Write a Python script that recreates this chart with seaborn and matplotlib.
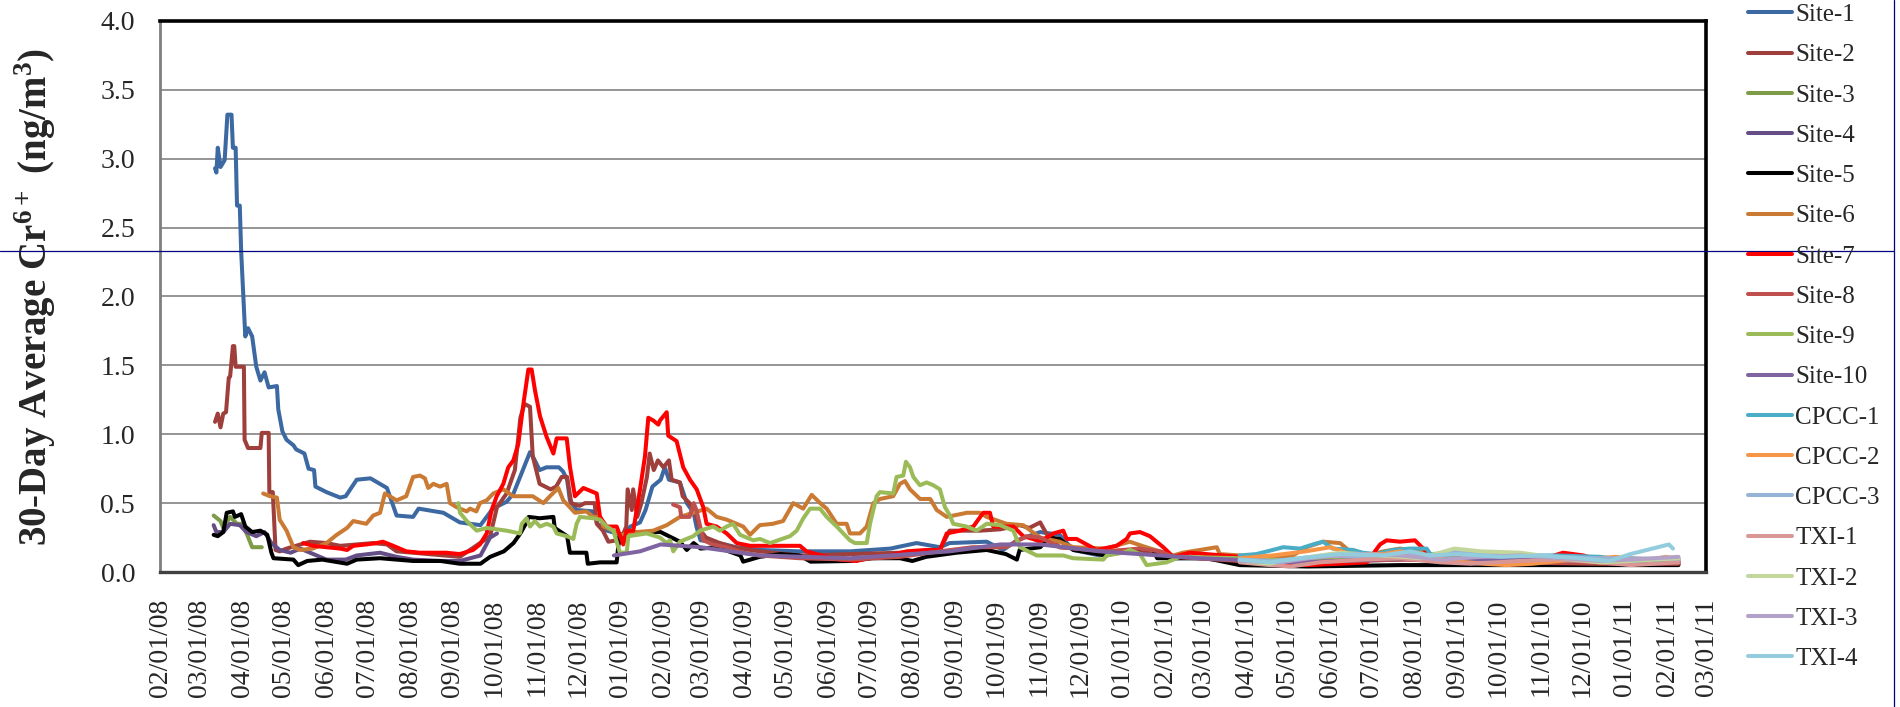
import numpy as np
import pandas as pd
import seaborn as sns
import matplotlib.pyplot as plt
import matplotlib.dates as mdates
from matplotlib.lines import Line2D

# x values are days since 2008-02-01, y values are 30-day averages (ng/m3)
START = pd.Timestamp('2008-02-01')

site1_day = [40, 41, 42, 44, 47, 49, 52, 53, 55, 56, 58, 59, 62, 64, 67, 70, 73, 76, 79, 85,
             86, 89, 92, 97, 99, 105, 108, 112, 113, 121, 131, 135, 143, 153, 165, 172, 184, 188, 206, 218,
             233, 242, 252, 257, 263, 269, 271, 276, 281, 290, 293, 296, 298, 303, 315, 318, 325, 332, 337, 342,
             349, 353, 358, 364, 367, 370, 378, 383, 388, 390, 393, 402, 419, 436, 465, 502, 531, 550, 567, 574,
             601, 613, 623, 640, 654, 664, 683, 713, 737, 756, 785, 829, 902, 938, 974, 1047, 1104]
site1_val = [2.93, 2.90, 3.08, 2.94, 2.99, 3.32, 3.32, 3.08, 3.08, 2.66, 2.66, 2.33, 1.71, 1.77, 1.71, 1.49, 1.39, 1.45, 1.34, 1.35,
             1.18, 1.02, 0.96, 0.92, 0.89, 0.86, 0.75, 0.74, 0.62, 0.58, 0.54, 0.55, 0.67, 0.68, 0.61, 0.41, 0.40, 0.46, 0.43, 0.36,
             0.34, 0.46, 0.51, 0.57, 0.72, 0.87, 0.84, 0.74, 0.76, 0.76, 0.73, 0.67, 0.52, 0.45, 0.44, 0.35, 0.30, 0.28, 0.27, 0.33,
             0.36, 0.45, 0.62, 0.67, 0.76, 0.67, 0.65, 0.50, 0.43, 0.33, 0.23, 0.22, 0.18, 0.16, 0.15, 0.15, 0.17, 0.21, 0.18, 0.21,
             0.22, 0.16, 0.23, 0.29, 0.27, 0.16, 0.12, 0.16, 0.10, 0.10, 0.075, 0.07, 0.09, 0.12, 0.10, 0.08, 0.07]

site2_day = [40, 42, 44, 46, 48, 50, 51, 53, 54, 55, 61, 61.5, 64, 73, 74, 79, 79.5, 82, 84, 87,
             92, 109, 121, 131, 155, 165, 172, 184, 218, 240, 245, 252, 258, 262, 265, 269, 271, 276, 284, 288,
             292, 296, 299, 305, 309, 316, 317.5, 322, 326, 332, 334, 339, 340, 343, 344, 347, 350, 354, 356, 359,
             362, 366, 370, 372, 378, 380, 385, 388, 390, 393, 397, 407, 417, 429, 436, 465, 502, 538, 567, 574,
             596, 611, 625, 632, 640, 641, 645, 654, 688, 712, 732, 756, 829, 902, 974, 1047, 1104]
site2_val = [1.09, 1.15, 1.05, 1.15, 1.16, 1.41, 1.42, 1.64, 1.64, 1.49, 1.49, 0.96, 0.90, 0.90, 1.01, 1.01, 0.58, 0.58, 0.16, 0.15,
             0.17, 0.22, 0.21, 0.19, 0.21, 0.20, 0.15, 0.14, 0.11, 0.26, 0.47, 0.57, 0.74, 1.12, 1.22, 1.20, 0.84, 0.64, 0.60, 0.62,
             0.69, 0.69, 0.50, 0.48, 0.50, 0.50, 0.35, 0.30, 0.22, 0.23, 0.21, 0.33, 0.60, 0.45, 0.60, 0.40, 0.50, 0.69, 0.86, 0.74,
             0.81, 0.76, 0.81, 0.67, 0.65, 0.55, 0.50, 0.45, 0.40, 0.30, 0.25, 0.21, 0.18, 0.16, 0.15, 0.12, 0.13, 0.14, 0.16, 0.30,
             0.30, 0.31, 0.34, 0.32, 0.36, 0.34, 0.27, 0.18, 0.15, 0.16, 0.12, 0.10, 0.08, 0.10, 0.08, 0.07, 0.06]

site3_day = [39, 44, 46, 51, 56, 59, 63, 67, 74]
site3_val = [0.41, 0.37, 0.32, 0.40, 0.35, 0.35, 0.28, 0.18, 0.18]

site4_day = [39, 41, 46, 51, 58, 63, 70, 76, 81, 87, 95, 102, 121, 135, 143, 160, 172, 184, 204, 218, 233, 240, 245]
site4_val = [0.34, 0.29, 0.29, 0.35, 0.34, 0.29, 0.26, 0.29, 0.21, 0.16, 0.14, 0.17, 0.09, 0.09, 0.12, 0.14, 0.11, 0.09,
             0.08, 0.08, 0.12, 0.25, 0.28]

site5_day = [39, 42, 46, 48.5, 53, 54.5, 59, 62, 67, 73, 78, 81, 82.5, 97, 100.5, 107, 118, 136, 143, 160,
             184, 204, 218, 233, 240, 250, 257, 262, 267, 268, 276, 286, 287, 296, 298, 310, 311, 320, 332, 334,
             349, 364, 378, 383, 388, 393, 405, 422, 424, 436, 451, 465, 473, 502, 518, 538, 547, 557, 579, 601,
             615, 623, 625, 640, 647, 654, 664, 688, 696, 712, 722, 725, 761, 785, 834, 902, 974, 1047, 1104]
site5_val = [0.27, 0.26, 0.29, 0.43, 0.44, 0.40, 0.42, 0.33, 0.29, 0.30, 0.27, 0.14, 0.10, 0.09, 0.05, 0.08, 0.09, 0.06, 0.09, 0.10,
             0.08, 0.08, 0.06, 0.06, 0.11, 0.15, 0.21, 0.28, 0.37, 0.40, 0.39, 0.40, 0.32, 0.26, 0.14, 0.14, 0.06, 0.07, 0.07, 0.27,
             0.29, 0.29, 0.22, 0.16, 0.21, 0.17, 0.18, 0.12, 0.075, 0.11, 0.13, 0.12, 0.075, 0.08, 0.10, 0.10, 0.08, 0.11, 0.14, 0.16,
             0.13, 0.09, 0.16, 0.18, 0.25, 0.24, 0.16, 0.12, 0.14, 0.17, 0.16, 0.10, 0.10, 0.05, 0.04, 0.05, 0.05, 0.05, 0.05]

site6_day = [75, 80, 85, 87, 92, 97, 102, 111, 121, 128.5, 136, 140.5, 150, 155, 160, 163.5, 167, 172, 179, 184,
             189, 192.6, 195, 198.7, 203.6, 208.4, 210.8, 215.7, 223, 225.4, 230, 232.6, 237.5, 242.3, 249.6, 256.9, 271, 278.7, 283.5, 289.6,
             293.2, 298, 301.7, 310, 315, 320, 322.3, 329.6, 334.4, 346.6, 358.6, 368.4, 378, 387.7, 397.4, 404.7, 412, 424, 429, 436,
             445.6, 453, 460.4, 467.6, 473.8, 480, 484.7, 492, 499.2, 501.6, 508.9, 513.8, 518.6, 523.4, 533, 538, 541.6, 545.3, 552.6, 560,
             564.7, 572, 586.7, 596, 601, 615.5, 627.6, 639.8, 654, 664, 688, 705, 717, 736.6, 743.6, 756, 768.3, 770.5, 785, 809,
             823.7, 833.6, 845.5, 858, 865, 877.5, 889.6, 901.5, 921, 930.6, 950, 974, 998, 1017, 1047, 1071, 1104]
site6_val = [0.57, 0.55, 0.54, 0.38, 0.30, 0.18, 0.16, 0.17, 0.21, 0.27, 0.32, 0.37, 0.35, 0.41, 0.43, 0.57, 0.55, 0.52, 0.55, 0.69,
             0.70, 0.68, 0.61, 0.64, 0.62, 0.64, 0.50, 0.47, 0.44, 0.46, 0.44, 0.50, 0.52, 0.57, 0.60, 0.55, 0.55, 0.50, 0.55, 0.61,
             0.52, 0.47, 0.43, 0.44, 0.40, 0.40, 0.33, 0.30, 0.27, 0.29, 0.30, 0.34, 0.40, 0.43, 0.46, 0.40, 0.38, 0.33, 0.27, 0.34,
             0.35, 0.37, 0.50, 0.46, 0.56, 0.50, 0.46, 0.35, 0.35, 0.28, 0.28, 0.33, 0.50, 0.53, 0.55, 0.64, 0.66, 0.60, 0.53, 0.53,
             0.45, 0.40, 0.43, 0.43, 0.40, 0.35, 0.34, 0.25, 0.22, 0.18, 0.17, 0.22, 0.18, 0.12, 0.14, 0.16, 0.18, 0.13, 0.12, 0.10,
             0.12, 0.18, 0.22, 0.21, 0.15, 0.12, 0.15, 0.17, 0.14, 0.10, 0.10, 0.07, 0.07, 0.09, 0.10, 0.09, 0.09]

site7_day = [104, 111.5, 121, 131, 136, 140.5, 150, 157.5, 162, 169.6, 179, 189, 208, 218, 227.6, 232.6, 237.5, 241.1, 244.8, 249.6,
             253.2, 256.9, 260.5, 264.2, 267.8, 270.2, 272.6, 276.3, 281.1, 286, 288.4, 295.7, 298.1, 301.7, 307.8, 317.5, 319.9, 324.7, 332, 336.8,
             339.3, 344.1, 349, 352.6, 355, 358.6, 362.3, 363.5, 368.4, 369.5, 375.6, 380.4, 385.3, 390.2, 395, 397.4, 404.7, 412, 419.3, 429,
             436, 450.7, 465.3, 470, 484.7, 494.4, 506.5, 518.4, 530.7, 542.9, 557.4, 567, 572, 581.6, 591.3, 598.5, 603.4, 605.8, 620.4, 627.6,
             634.7, 639.8, 649.5, 656.7, 659.2, 666.4, 681, 695.5, 702.8, 705.2, 712.5, 719.7, 729.4, 736.6, 748.7, 772.7, 785, 809, 833.6, 858,
             877.5, 887, 891.8, 901.5, 912.4, 918.4, 925.5, 949.6, 974, 998, 1020, 1035, 1047, 1069, 1104]
site7_val = [0.21, 0.19, 0.18, 0.17, 0.16, 0.19, 0.20, 0.21, 0.22, 0.19, 0.15, 0.14, 0.14, 0.13, 0.16, 0.20, 0.28, 0.45, 0.55, 0.64,
             0.76, 0.81, 0.93, 1.22, 1.47, 1.47, 1.32, 1.13, 0.98, 0.86, 0.97, 0.97, 0.76, 0.55, 0.61, 0.57, 0.40, 0.33, 0.33, 0.20,
             0.30, 0.30, 0.60, 0.84, 1.12, 1.10, 1.07, 1.10, 1.16, 0.99, 0.95, 0.76, 0.67, 0.60, 0.47, 0.35, 0.33, 0.28, 0.21, 0.19,
             0.19, 0.19, 0.19, 0.15, 0.11, 0.09, 0.08, 0.11, 0.12, 0.15, 0.16, 0.16, 0.28, 0.30, 0.33, 0.43, 0.43, 0.33, 0.33, 0.26,
             0.24, 0.22, 0.28, 0.30, 0.24, 0.24, 0.16, 0.19, 0.24, 0.28, 0.29, 0.26, 0.18, 0.11, 0.14, 0.12, 0.11, 0.07, 0.05, 0.06,
             0.07, 0.20, 0.23, 0.22, 0.23, 0.17, 0.10, 0.08, 0.07, 0.07, 0.14, 0.12, 0.08, 0.06, 0.07]

site8_day = [373, 378, 379, 385, 388, 390, 395, 402, 412, 424, 436, 465, 502, 538, 567, 591, 615, 630, 640, 654,
             688, 712, 727, 737, 785, 829, 902, 974, 1047, 1104]
site8_val = [0.49, 0.47, 0.40, 0.40, 0.50, 0.45, 0.23, 0.20, 0.18, 0.14, 0.12, 0.10, 0.09, 0.11, 0.15, 0.18, 0.18, 0.26, 0.25, 0.18,
             0.15, 0.17, 0.15, 0.11, 0.08, 0.07, 0.09, 0.07, 0.06, 0.06]

site9_day = [216.9, 218.1, 223, 230.3, 237.5, 252, 261.7, 263, 266.6, 269, 272.6, 276.3, 281.1, 286, 288.4, 295.7, 300.5, 302.9, 305.3, 315,
             320, 324.7, 329.6, 334.4, 339.3, 340.5, 353.8, 363.5, 368.4, 370.8, 373.2, 378, 387.7, 392.6, 402.3, 407, 412, 416.6, 421.7, 431.3,
             436.2, 443.5, 458, 462.9, 467.7, 472.6, 479.8, 484.7, 492, 496.8, 501.6, 505.3, 513.8, 516.2, 521, 523.4, 533.1, 535.5, 540.4, 542.3,
             545.3, 547.7, 552.5, 557.4, 562.2, 567, 570.7, 574.3, 576.7, 586.4, 593.7, 601, 610.7, 620.4, 625.2, 637.4, 656.7, 663.8, 685.8, 688.3,
             700.4, 705.2, 712.5, 717.3, 731.9, 741.5, 785.2, 828.8, 901.5, 941.5, 974, 1047, 1104]
site9_val = [0.50, 0.43, 0.37, 0.30, 0.32, 0.30, 0.28, 0.35, 0.39, 0.33, 0.37, 0.33, 0.35, 0.33, 0.28, 0.26, 0.24, 0.35, 0.40, 0.39,
             0.38, 0.33, 0.30, 0.14, 0.14, 0.26, 0.28, 0.25, 0.21, 0.23, 0.15, 0.22, 0.26, 0.30, 0.33, 0.30, 0.33, 0.35, 0.27, 0.23,
             0.24, 0.21, 0.26, 0.30, 0.39, 0.46, 0.46, 0.40, 0.33, 0.28, 0.23, 0.21, 0.21, 0.35, 0.55, 0.58, 0.57, 0.69, 0.70, 0.80,
             0.76, 0.69, 0.63, 0.65, 0.63, 0.60, 0.47, 0.41, 0.35, 0.33, 0.30, 0.35, 0.34, 0.30, 0.18, 0.12, 0.12, 0.10, 0.09, 0.12,
             0.14, 0.16, 0.13, 0.05, 0.07, 0.11, 0.10, 0.08, 0.10, 0.15, 0.10, 0.08, 0.08]

site10_day = [330, 349, 364, 393, 436, 502, 574, 611, 640, 683, 756, 829, 902, 974, 1047, 1104]
site10_val = [0.12, 0.15, 0.20, 0.18, 0.12, 0.10, 0.15, 0.20, 0.20, 0.15, 0.10, 0.07, 0.10, 0.09, 0.08, 0.08]

cpcc1_day = [785, 797, 809, 816.6, 829, 838.2, 845.5, 852.6, 867.5, 874.4, 884.4, 896.5, 908.7, 920.9, 925.7, 932.7,
             945.2, 962, 974, 998, 1017, 1047, 1071, 1095, 1104]
cpcc1_val = [0.12, 0.13, 0.16, 0.18, 0.17, 0.20, 0.22, 0.17, 0.16, 0.14, 0.13, 0.16, 0.17, 0.17, 0.10, 0.12,
             0.14, 0.14, 0.13, 0.12, 0.12, 0.11, 0.08, 0.09, 0.10]

cpcc2_day = [785, 809, 833, 851, 865, 889.6, 901.5, 921, 938, 962, 979, 998, 1017, 1047, 1058, 1071, 1083, 1095, 1104]
cpcc2_val = [0.10, 0.12, 0.15, 0.18, 0.13, 0.13, 0.15, 0.12, 0.08, 0.06, 0.05, 0.06, 0.08, 0.10, 0.11, 0.10, 0.09, 0.11, 0.09]

cpcc3_day = [785, 809, 829, 851, 874, 902, 923, 941, 962, 989, 1018, 1047, 1069, 1104]
cpcc3_val = [0.09, 0.08, 0.10, 0.12, 0.11, 0.13, 0.12, 0.15, 0.13, 0.12, 0.11, 0.10, 0.10, 0.09]

txi1_day = [785, 807, 822, 843, 874, 902, 931, 953, 989, 1018, 1047, 1069, 1104]
txi1_val = [0.07, 0.05, 0.04, 0.07, 0.09, 0.10, 0.07, 0.06, 0.08, 0.09, 0.07, 0.05, 0.07]

txi2_day = [785, 807, 829, 858, 889, 917, 941, 960, 989, 1018, 1047, 1069, 1104]
txi2_val = [0.08, 0.06, 0.10, 0.14, 0.12, 0.10, 0.17, 0.15, 0.14, 0.10, 0.07, 0.08, 0.10]

txi3_day = [785, 814, 843, 874, 902, 931, 960, 989, 1018, 1047, 1069, 1104]
txi3_val = [0.08, 0.07, 0.11, 0.13, 0.12, 0.09, 0.11, 0.12, 0.10, 0.08, 0.09, 0.11]

txi4_day = [785, 807, 829, 858, 889, 909, 923, 945, 974, 1003, 1032, 1054, 1069, 1097, 1100]
txi4_val = [0.09, 0.07, 0.10, 0.13, 0.12, 0.15, 0.12, 0.13, 0.11, 0.12, 0.10, 0.08, 0.13, 0.20, 0.17]

series = [
    ('Site-1', site1_day, site1_val, '#3C69A1'),
    ('Site-2', site2_day, site2_val, '#9E3F3B'),
    ('Site-3', site3_day, site3_val, '#7E9B47'),
    ('Site-4', site4_day, site4_val, '#654E86'),
    ('Site-5', site5_day, site5_val, '#000000'),
    ('Site-6', site6_day, site6_val, '#CB7A34'),
    ('Site-7', site7_day, site7_val, '#FF0000'),
    ('Site-8', site8_day, site8_val, '#C0504D'),
    ('Site-9', site9_day, site9_val, '#9BBB59'),
    ('Site-10', site10_day, site10_val, '#8064A2'),
    ('CPCC-1', cpcc1_day, cpcc1_val, '#4BACC6'),
    ('CPCC-2', cpcc2_day, cpcc2_val, '#F79646'),
    ('CPCC-3', cpcc3_day, cpcc3_val, '#95B3D7'),
    ('TXI-1', txi1_day, txi1_val, '#D99694'),
    ('TXI-2', txi2_day, txi2_val, '#C3D69B'),
    ('TXI-3', txi3_day, txi3_val, '#B3A2C7'),
    ('TXI-4', txi4_day, txi4_val, '#93CDDD'),
]

sns.set_style('white')
plt.rcParams['font.family'] = ['Liberation Serif', 'DejaVu Serif']
plt.rcParams['mathtext.fontset'] = 'custom'
plt.rcParams['mathtext.rm'] = 'Liberation Serif'
plt.rcParams['mathtext.bf'] = 'Liberation Serif:bold'

fig = plt.figure(figsize=(19, 7.07), dpi=100)
ax = fig.add_axes([160 / 1900, 1 - 572 / 707, 1546 / 1900, 551 / 707])

for name, days, vals, color in series:
    dates = START + pd.to_timedelta(np.array(days), unit='D')
    sns.lineplot(x=dates, y=vals, color=color, linewidth=2.9, label=name, ax=ax, estimator=None)

handles, labels = ax.get_legend_handles_labels()
if ax.get_legend() is not None:
    ax.get_legend().remove()

ax.set_xlim(START, pd.Timestamp('2011-03-01'))
ax.set_ylim(0, 4)
ax.set_yticks(np.arange(0, 4.01, 0.5))
ax.yaxis.set_major_formatter(plt.FormatStrFormatter('%.1f'))
ax.xaxis.set_major_locator(mdates.MonthLocator())
ax.xaxis.set_major_formatter(mdates.DateFormatter('%m/%d/%y'))
plt.setp(ax.get_xticklabels(), rotation=90)

ax.tick_params(axis='both', labelsize=20, direction='out', color='#808080', width=1.2)
ax.tick_params(axis='y', length=6, pad=12)
ax.tick_params(axis='x', length=7, pad=12)
ax.grid(axis='y', color='#8c8c8c', linewidth=1.3)
ax.grid(axis='x', visible=False)
ax.set_axisbelow(True)

for side in ['top', 'right']:
    ax.spines[side].set_color('black')
    ax.spines[side].set_linewidth(2.6)
ax.spines['left'].set_color('#7f7f7f')
ax.spines['left'].set_linewidth(2)
ax.spines['bottom'].set_color('#404040')
ax.spines['bottom'].set_linewidth(2.4)

ax.set_xlabel('')
ax.set_ylabel(r'30-Day Average Cr$^{\mathbf{6+}}$ (ng/m$^{\mathbf{3}}$)', fontsize=28, fontweight='bold')
ax.yaxis.set_label_coords(-0.066, 0.5)

fig.legend(handles, labels, loc='upper left', bbox_to_anchor=(1748 / 1900, 0.995),
           frameon=False, fontsize=18, handlelength=1.75, handletextpad=0.15,
           labelspacing=0.71, borderpad=0, borderaxespad=0)

# thin navy border lines present in the source image
fig.add_artist(Line2D([0, 1894 / 1900], [1 - 251 / 707] * 2, transform=fig.transFigure,
                      color='#000080', linewidth=0.9))
fig.add_artist(Line2D([1894 / 1900] * 2, [0, 1], transform=fig.transFigure,
                      color='#000080', linewidth=0.9))

fig.savefig('out.png', dpi=100)
